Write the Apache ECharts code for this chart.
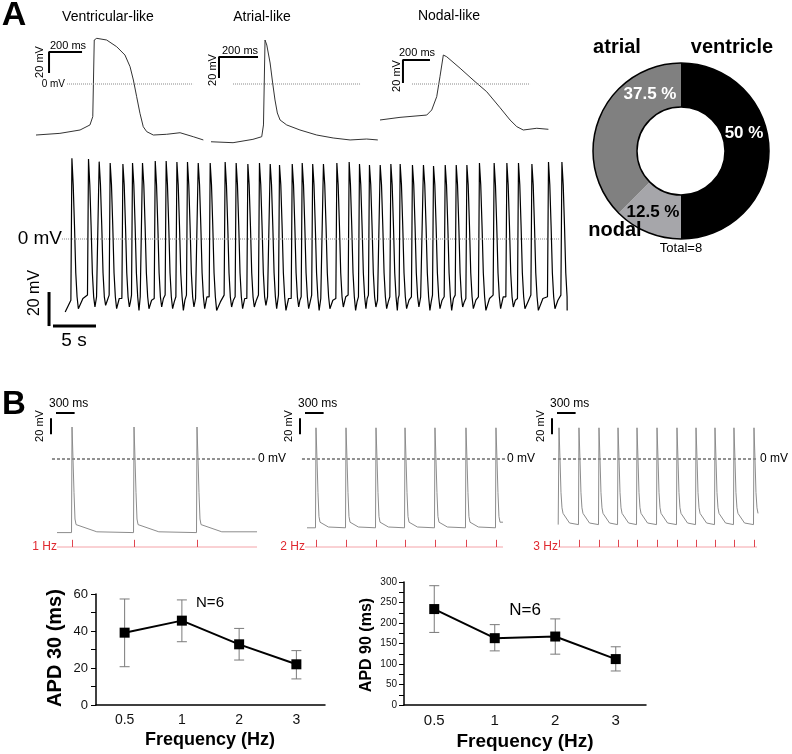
<!DOCTYPE html>
<html>
<head>
<meta charset="utf-8">
<title>Action potentials and APD</title>
<script src="https://cdn.jsdelivr.net/npm/echarts@6/dist/echarts.min.js"></script>
<style>
  html, body { margin: 0; padding: 0; background: #fff; }
  #main { width: 792px; height: 754px; }
</style>
</head>
<body>
<div id="main"></div>
<script>
// ---------- data ----------

// panel A, single action potentials: [time (ms), membrane potential (mV)]
var ventricularTrace = [[0,-48.6],[145,-47],[267,-43.8],[327,-39],[344,-31.1],[353,41.9],[368,43.5],[428,41.9],[489,35.5],[539,27.6],[570,16.5],[590,3.8],[610,-12.1],[630,-27.9],[650,-40.7],[671,-45.4],[711,-48.6],[792,-47.9],[873,-46.4],[953,-50.2],[1014,-53.3]];
var atrialTrace = [[0,-55],[113,-55.9],[215,-52.7],[260,-50.2],[269,-39],[277,41.9],[286,37.1],[303,20],[316,1],[328,-15.2],[340,-27.6],[354,-34.3],[388,-39],[456,-43.8],[542,-48.6],[626,-51.4],[713,-53.3],[798,-52.4],[855,-53.3]];
var nodalTrace = [[0,-31.3],[148,-29],[346,-27],[383,-22.6],[420,-11],[444,6.3],[469,25.2],[494,23.7],[593,13.7],[704,2],[790,-6.7],[889,-20.6],[963,-31.3],[1013,-37.1],[1061,-40],[1161,-38.5],[1247,-39.4]];

// panel A, spontaneous beating: beat peak times (s), peak / take-off / trough / mid-diastole levels (mV)
var longBeatTimes = [0.78,2.71,3.95,5.23,6.71,7.83,8.99,10.47,11.74,12.99,14.22,15.47,16.86,18.60,19.88,21.24,22.59,23.84,24.92,26.40,27.56,28.78,30.03,31.59,33.02,34.22,35.38,36.63,37.87,38.95,40.38,41.66,42.83,44.19,45.47,46.71,48.17,49.88,51.36,52.71,54.27,56.20,57.76];
var longPeakMv = [47.5,47.1,45.5,44.7,44.1,44.7,44.7,45.9,45.9,45.3,45.3,44.7,44.7,45.3,44.7,44.1,44.7,44.1,43.5,44.1,44.7,44.1,44.1,44.7,45.3,44.1,43.5,43.5,44.1,44.1,43.5,43.5,42.9,43.5,43.5,43.5,44.7,44.7,44.7,44.7,44.1,45.3,45.3];
var longPreMv = [-36,-33,-34,-33,-35,-33,-34,-35,-33,-34,-33,-35,-34,-33,-34,-35,-33,-34,-33,-35,-34,-33,-34,-35,-33,-34,-33,-35,-34,-33,-34,-35,-33,-34,-33,-35,-34,-33,-34,-35,-33,-34,-33];
var longTroughMv = [-41,-40,-39,-41,-40,-42,-41,-40,-41,-42,-40,-41,-42,-40,-41,-40,-39,-41,-42,-40,-41,-42,-41,-40,-42,-41,-40,-41,-42,-41,-40,-42,-41,-42,-40,-41,-42,-41,-40,-41,-42,-41,-42];
var longBumpMv = [-35,-34,-36,-35,-37,-34,-36,-35,-37,-36,-35,-34,-37,-36,-35,-36,-34,-37,-35,-36,-37,-35,-36,-34,-37,-35,-36,-37,-35,-36,-34,-37,-36,-35,-37,-36,-35,-34,-36,-37,-35,-36,-35];
var longSpanS = [0, 58.37];
var longStartMv = -43;

// panel A, donut
var pieNames = ['ventricle', 'nodal', 'atrial'];
var pieCounts = [4, 1, 3];
var piePercentLabels = ['50 %', '12.5 %', '37.5 %'];

// panel B, paced traces: spike times (ms), levels (mV)
var bFreqLabels = ['1 Hz', '2 Hz', '3 Hz'];
var bSpikesMs = [
  [339, 1339, 2355],
  [258, 742, 1226, 1694, 2177, 2677, 3161],
  [113, 435, 758, 1065, 1371, 1694, 2016, 2323, 2629, 2935, 3258]
];
var bTraceSpanMs = [[97, 3323], [113, 3274], [100, 3323]];
var bPeakMv = [40, 39, 39];
var bPreMv = [-92, -86, -82];
var bPostMv = [-82, -79, -68];
var bLateMv = [-91, -85, -80];
var bLateDelayMs = [400, 200, 170];

// panel B, APD summary
var freqLabels = ['0.5', '1', '2', '3'];
var apd30Mean = [39.1, 45.6, 32.8, 22.0];
var apd30Upper = [57.3, 56.8, 41.4, 29.4];
var apd30Lower = [20.7, 34.2, 24.3, 14.1];
var apd90Mean = [234, 163, 167, 112];
var apd90Upper = [291, 196, 210, 142];
var apd90Lower = [177, 132, 124, 83];

// ---------- building ----------
var FONT = '"Liberation Sans", Arial, Helvetica, sans-serif';

function buildLongTrace() {
  var pts = [[longSpanS[0], longStartMv]];
  for (var i = 0; i < longBeatTimes.length; i++) {
    var tp = longBeatTimes[i];
    pts.push([tp - 0.12, longPreMv[i]], [tp, longPeakMv[i]], [tp + 0.15, 32], [tp + 0.3, 8],
             [tp + 0.45, -20], [tp + 0.6, -34], [tp + 0.75, longTroughMv[i]]);
    if (i + 1 < longBeatTimes.length) {
      pts.push([(tp + 0.75 + longBeatTimes[i + 1] - 0.12) / 2, longBumpMv[i]]);
    }
  }
  pts = pts.filter(function (p) { return p[0] <= longSpanS[1]; });
  pts.push([longSpanS[1], longTroughMv[longTroughMv.length - 1]]);
  return pts;
}

function buildPacedTrace(k) {
  var span = bTraceSpanMs[k];
  var post = bPostMv[k];
  var pts = [[span[0], bPreMv[k]]];
  bSpikesMs[k].forEach(function (ts) {
    pts.push([ts - 8, bPreMv[k]], [ts, bPeakMv[k]], [ts + 16, 0], [ts + 32, -42], [ts + 48, post + 7],
             [ts + 65, post], [ts + bLateDelayMs[k], bLateMv[k]]);
  });
  pts = pts.filter(function (p) { return p[0] >= span[0] && p[0] <= span[1]; });
  pts.push([span[1], pts[pts.length - 1][1]]);
  return pts;
}

function hiddenAxis(gi, min, max) {
  return { type: 'value', gridIndex: gi, min: min, max: max, show: false, splitLine: { show: false } };
}

function lineSeries(gi, data, color, width, type) {
  return {
    type: 'line', xAxisIndex: gi, yAxisIndex: gi, data: data, symbol: 'none', showSymbol: false,
    silent: true, animation: false, clip: false,
    lineStyle: { color: color, width: width, type: type || 'solid' }
  };
}

function txt(text, x, y, size, o) {
  o = o || {};
  var align = o.align || 'center';
  return {
    type: 'text', x: x, y: y, rotation: o.rotate ? Math.PI / 2 : 0, silent: true, z: 100,
    style: {
      text: text, x: 0, y: 0, fill: o.color || '#000',
      font: (o.bold ? 'bold ' : '') + size + 'px ' + FONT,
      textAlign: align, align: align, textVerticalAlign: 'middle', verticalAlign: 'middle'
    }
  };
}

function errorBars(params, api) {
  var lo = api.coord([api.value(0), api.value(1)]);
  var hi = api.coord([api.value(0), api.value(2)]);
  var hw = 5;
  var st = { stroke: '#7a7a7a', lineWidth: 1 };
  return {
    type: 'group', children: [
      { type: 'line', shape: { x1: hi[0], y1: hi[1], x2: lo[0], y2: lo[1] }, style: st },
      { type: 'line', shape: { x1: hi[0] - hw, y1: hi[1], x2: hi[0] + hw, y2: hi[1] }, style: st },
      { type: 'line', shape: { x1: lo[0] - hw, y1: lo[1], x2: lo[0] + hw, y2: lo[1] }, style: st }
    ]
  };
}

var grids = [
  { left: 36, top: 21, width: 167, height: 126 },   // 0 ventricular
  { left: 211, top: 21, width: 167, height: 126 },  // 1 atrial
  { left: 380, top: 15, width: 168, height: 138 },  // 2 nodal
  { left: 48, top: 137, width: 522, height: 221 },  // 3 long recording
  { left: 51, top: 411, width: 240, height: 144 },  // 4 1 Hz
  { left: 300, top: 411, width: 240, height: 144 }, // 5 2 Hz
  { left: 552, top: 411, width: 240, height: 144 }, // 6 3 Hz
  { left: 96, top: 594, width: 229, height: 111 },  // 7 APD30
  { left: 404, top: 582, width: 242, height: 123 }  // 8 APD90
].map(function (g) { g.outerBoundsMode = 'none'; g.containLabel = false; return g; });

function apdX(gi, fontSize) {
  return {
    type: 'category', gridIndex: gi, data: freqLabels, boundaryGap: true,
    axisLine: { show: true, lineStyle: { color: '#000', width: 1.5 } },
    axisTick: { show: false },
    axisLabel: { fontSize: fontSize, color: '#111', fontFamily: FONT, margin: 8 },
    splitLine: { show: false }
  };
}
function apdY(gi, max, interval, fontSize, margin) {
  return {
    type: 'value', gridIndex: gi, min: 0, max: max, interval: interval,
    axisLine: { show: true, lineStyle: { color: '#000', width: 1.5 } },
    axisTick: { show: true, length: 5, lineStyle: { color: '#000', width: 1 } },
    minorTick: { show: true, splitNumber: 2, length: 5, lineStyle: { color: '#000', width: 1 } },
    axisLabel: { fontSize: fontSize, color: '#111', fontFamily: FONT, margin: margin },
    splitLine: { show: false }, minorSplitLine: { show: false }
  };
}

var xAxes = [
  hiddenAxis(0, 0, 1012), hiddenAxis(1, 0, 856), hiddenAxis(2, 0, 1244), hiddenAxis(3, -2, 58.7),
  hiddenAxis(4, 0, 3871), hiddenAxis(5, 0, 3871), hiddenAxis(6, 0, 3871),
  apdX(7, 14), apdX(8, 15)
];
var yAxes = [
  hiddenAxis(0, -60, 60), hiddenAxis(1, -60, 60), hiddenAxis(2, -60, 60), hiddenAxis(3, -70, 60),
  hiddenAxis(4, -120, 60), hiddenAxis(5, -120, 60), hiddenAxis(6, -120, 60),
  apdY(7, 60, 20, 13, 8), apdY(8, 300, 50, 10, 7)
];

var series = [];

// panel A single APs
series.push(lineSeries(0, ventricularTrace, '#333', 1));
series.push(lineSeries(1, atrialTrace, '#333', 1));
series.push(lineSeries(2, nodalTrace, '#333', 1));
series.push(lineSeries(0, [[188, 0], [952, 0]], '#888', 1, 'dotted'));
series.push(lineSeries(1, [[113, 0], [764, 0]], '#888', 1, 'dotted'));
series.push(lineSeries(2, [[237, 0], [1111, 0]], '#888', 1, 'dotted'));
// scale bars (200 ms, 20 mV)
series.push(lineSeries(0, [[79, 10.5], [79, 30.5], [279, 30.5]], '#000', 2));
series.push(lineSeries(1, [[41, 5.7], [41, 25.7], [241, 25.7]], '#000', 2));
series.push(lineSeries(2, [[170, 0.9], [170, 20.9], [370, 20.9]], '#000', 2));

// panel A long recording
series.push(lineSeries(3, buildLongTrace(), '#000', 1.2));
series.push(lineSeries(3, [[-0.37, 0], [57.53, 0]], '#888', 1, 'dotted'));
series.push(lineSeries(3, [[-1.88, -31.2], [-1.88, -51.2]], '#000', 3));
series.push(lineSeries(3, [[-1.42, -51.2], [3.58, -51.2]], '#000', 3));

// panel A donut
series.push({
  type: 'pie', center: [681, 151], radius: [44, 88], startAngle: 90, clockwise: true,
  silent: true, animation: false, label: { show: false }, labelLine: { show: false },
  data: pieNames.map(function (n, i) {
    return { name: n, value: pieCounts[i], itemStyle: { color: ['#000', '#a6a6aa', '#808080'][i] } };
  })
});
series.push({
  type: 'pie', center: [681, 151], radius: [44, 88], startAngle: 90, silent: true, animation: false,
  label: { show: false }, labelLine: { show: false },
  data: [{ value: 1, itemStyle: { color: 'rgba(0,0,0,0)', borderColor: '#000', borderWidth: 1.5 } }]
});

// panel B paced traces
var dashSpans = [[16, 3290], [32, 3306], [16, 3307]];
var stimSpans = [[97, 3323], [81, 3274], [97, 3307]];
for (var k = 0; k < 3; k++) {
  var gi = 4 + k;
  series.push(lineSeries(gi, [[dashSpans[k][0], 0], [dashSpans[k][1], 0]], '#222', 1, [3, 2]));
  series.push(lineSeries(gi, buildPacedTrace(k), '#8c8c8c', 1));
  var stim = lineSeries(gi, [[stimSpans[k][0], -110], [stimSpans[k][1], -110]], '#f4a3a8', 1);
  stim.markLine = {
    silent: true, symbol: 'none', animation: false, label: { show: false },
    lineStyle: { color: '#e0454f', width: 1, type: 'solid' },
    data: bSpikesMs[k].map(function (t) { return [{ coord: [t, -110] }, { coord: [t, -101] }]; })
  };
  series.push(stim);
  series.push(lineSeries(gi, [[81, 57.5], [381, 57.5]], '#000', 2));
  series.push(lineSeries(gi, [[0, 51], [0, 31]], '#000', 2));
}

// APD summaries
function apdSeries(gi, mean, lower, upper) {
  series.push({
    type: 'custom', xAxisIndex: gi, yAxisIndex: gi, renderItem: errorBars, silent: true, animation: false, z: 2,
    data: mean.map(function (m, i) { return [i, lower[i], upper[i]]; })
  });
  series.push({
    type: 'line', xAxisIndex: gi, yAxisIndex: gi, data: mean, symbol: 'rect', symbolSize: 10,
    silent: true, animation: false, z: 3,
    itemStyle: { color: '#000' }, lineStyle: { color: '#000', width: 2 }
  });
}
apdSeries(7, apd30Mean, apd30Lower, apd30Upper);
apdSeries(8, apd90Mean, apd90Lower, apd90Upper);

// texts
var texts = [
  txt('A', 14, 16, 34, { bold: true }),
  txt('Ventricular-like', 108, 17, 14),
  txt('Atrial-like', 262, 17, 14),
  txt('Nodal-like', 449, 16, 14),
  txt('200 ms', 50, 46, 11, { align: 'left' }),
  txt('20 mV', 40, 62, 11, { rotate: true }),
  txt('0 mV', 65, 84, 10, { align: 'right' }),
  txt('200 ms', 222, 51, 11, { align: 'left' }),
  txt('20 mV', 213, 70, 11, { rotate: true }),
  txt('200 ms', 399, 53, 11, { align: 'left' }),
  txt('20 mV', 397, 76, 11, { rotate: true }),
  txt('0 mV', 62, 239, 19, { align: 'right' }),
  txt('20 mV', 35, 293, 16, { rotate: true }),
  txt('5 s', 74, 341, 19),
  txt('atrial', 617, 47, 20, { bold: true }),
  txt('ventricle', 732, 47, 20, { bold: true }),
  txt('nodal', 615, 230, 20, { bold: true }),
  txt('Total=8', 681, 248, 13),
  txt(piePercentLabels[0], 744, 133, 17, { bold: true, color: '#fff' }),
  txt(piePercentLabels[2], 650, 94, 17, { bold: true, color: '#fff' }),
  txt(piePercentLabels[1], 653, 212, 17, { bold: true, color: '#000' }),
  txt('B', 14, 405, 33, { bold: true }),
  txt('APD 30 (ms)', 55, 648, 20, { bold: true, rotate: true }),
  txt('Frequency (Hz)', 210, 740, 18, { bold: true }),
  txt('N=6', 210, 603, 15),
  txt('APD 90 (ms)', 367, 645, 16, { bold: true, rotate: true }),
  txt('Frequency (Hz)', 525, 742, 19, { bold: true }),
  txt('N=6', 525, 610, 17)
];
var bLefts = [51, 300, 552];
var zeroLabelX = [258, 507, 760];
var stimLabelRight = [57, 305, 558];
for (var j = 0; j < 3; j++) {
  texts.push(txt('300 ms', bLefts[j] - 2, 404, 12, { align: 'left' }));
  texts.push(txt('20 mV', bLefts[j] - 11, 426, 11, { rotate: true }));
  texts.push(txt('0 mV', zeroLabelX[j], 459, 12, { align: 'left' }));
  texts.push(txt(bFreqLabels[j], stimLabelRight[j], 547, 12, { align: 'right', color: '#e0282f' }));
}

var option = {
  animation: false,
  backgroundColor: '#fff',
  grid: grids,
  xAxis: xAxes,
  yAxis: yAxes,
  series: series,
  graphic: { elements: texts }
};

var chart = echarts.init(document.getElementById('main'));
chart.setOption(option);
</script>
</body>
</html>
